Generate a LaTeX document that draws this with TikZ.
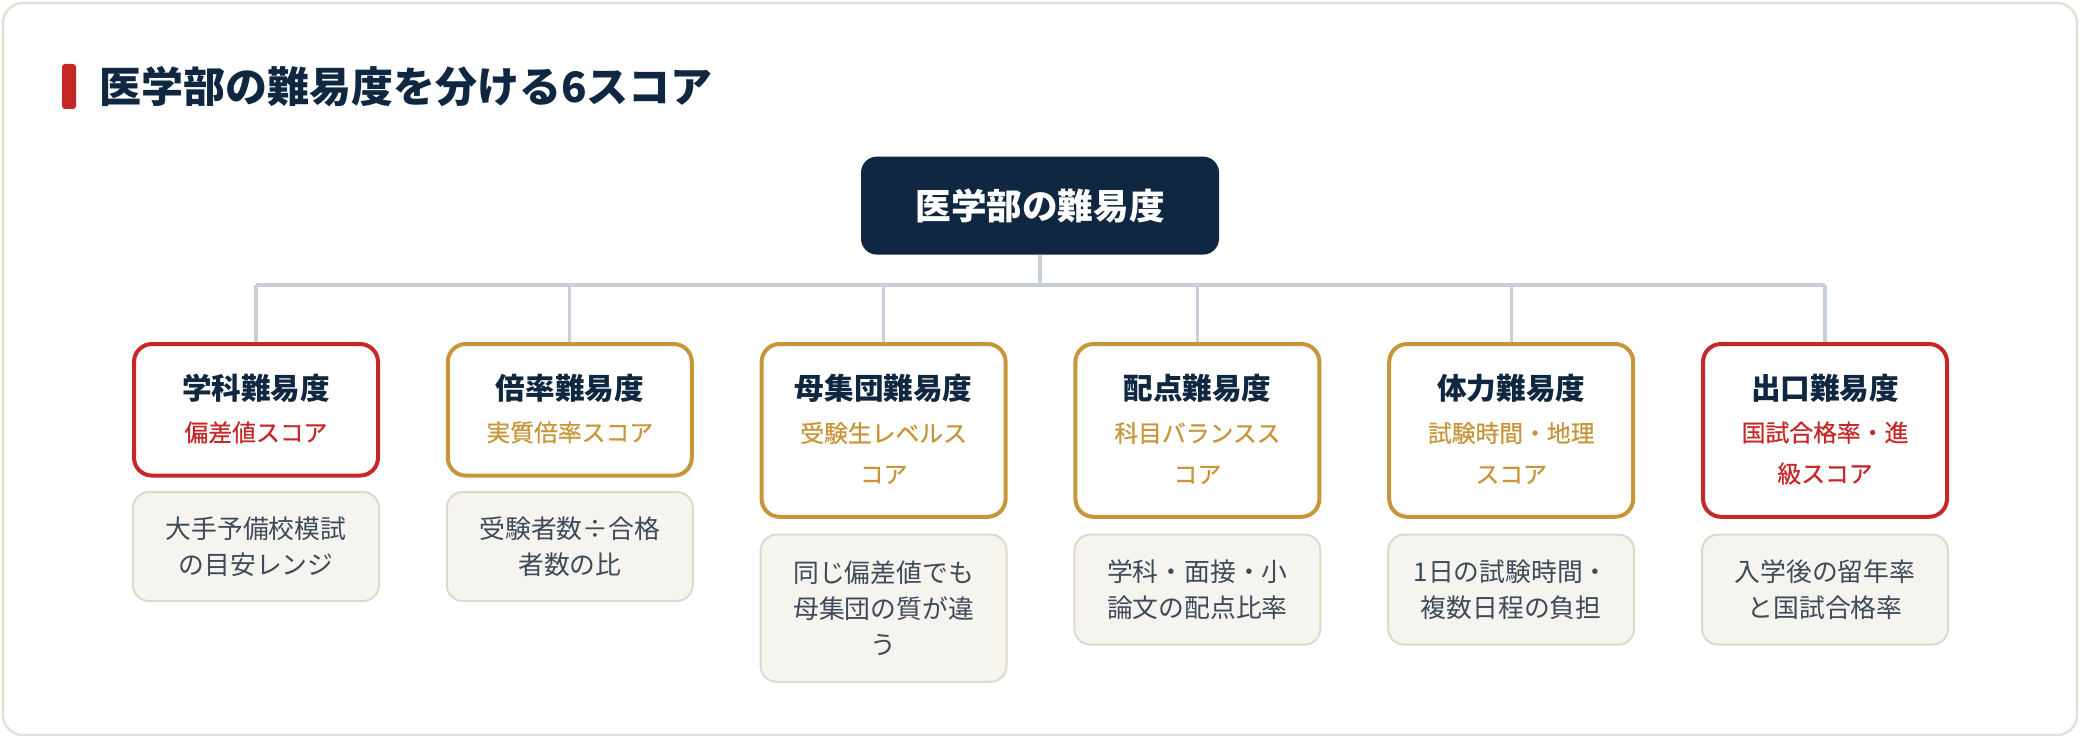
\documentclass[tikz,border=0pt]{standalone}
\usepackage{fontspec}
\setmainfont{Noto Sans CJK JP}
\newfontfamily\jpmed[FakeBold=0.6]{Noto Sans CJK JP}
\definecolor{navy}{HTML}{0F2741}
\definecolor{redc}{HTML}{C62828}
\definecolor{goldc}{HTML}{C8963A}
\definecolor{connc}{HTML}{C8CFD9}
\definecolor{descfill}{HTML}{F5F4EE}
\definecolor{descdraw}{HTML}{DDDACB}
\definecolor{desctext}{HTML}{3E4A5A}
\definecolor{framec}{HTML}{E2E0D4}
\tikzset{
  rootbox/.style={fill=navy, text=white, rounded corners=8pt, minimum width=179pt, minimum height=49pt, inner sep=0pt, font=\bfseries\fontsize{17.8}{20}\selectfont},
  catbox/.style={fill=white, line width=2pt, rounded corners=9pt, minimum width=122pt, anchor=north, inner sep=0pt},
  cattitle/.style={text=navy, inner sep=0pt, font=\bfseries\fontsize{14.8}{18}\selectfont},
  catsub/.style={inner sep=0pt, align=center, font=\jpmed\fontsize{11.9}{20.5}\selectfont},
  descbox/.style={fill=descfill, draw=descdraw, line width=1pt, rounded corners=8pt, minimum width=123pt, text=desctext, align=center, inner sep=0pt, font=\fontsize{12.9}{18}\selectfont},
  conn/.style={draw=connc, line width=1.6pt},
}
\begin{document}
\begin{tikzpicture}[x=0.5pt,y=-0.5pt]
\useasboundingbox (0,0) rectangle (2080,738);
\draw[framec, line width=1.2pt, fill=white, rounded corners=10pt] (3,3) rectangle (2077,735);
\fill[redc, rounded corners=1.5pt] (62,64) rectangle (76,109);
\node[anchor=west, text=navy, inner sep=0pt, font=\bfseries\fontsize{21}{25}\selectfont] (title) at (99,87) {医学部の難易度を分ける6スコア};

\node[rootbox] (root) at (1040,205.6) {医学部の難易度};
\coordinate (bus) at (1040,285);

% category boxes
\node[catbox, draw=redc, minimum height=65.8pt] (b1) at (256,342) {};
\node[catbox, draw=goldc, minimum height=65.8pt] (b2) at (569.8,342) {};
\node[catbox, draw=goldc, minimum height=86.4pt] (b3) at (883.6,342) {};
\node[catbox, draw=goldc, minimum height=86.4pt] (b4) at (1197.4,342) {};
\node[catbox, draw=goldc, minimum height=86.4pt] (b5) at (1511.2,342) {};
\node[catbox, draw=redc, minimum height=86.4pt] (b6) at (1825,342) {};

% connectors
\draw[conn] (root.south) -- (bus);
\draw[conn] (b1.north |- bus) -- (b6.north |- bus);
\foreach \i in {1,...,6} {\draw[conn] (b\i.north |- bus) -- (b\i.north);}

% titles
\node[cattitle] (t1) at (256,388.7) {学科難易度};
\node[cattitle] (t2) at (569.8,388.7) {倍率難易度};
\node[cattitle] (t3) at (883.6,388.7) {母集団難易度};
\node[cattitle] (t4) at (1197.4,388.7) {配点難易度};
\node[cattitle] (t5) at (1511.2,388.7) {体力難易度};
\node[cattitle] (t6) at (1825,388.7) {出口難易度};

% subtitles
\node[catsub, text=redc] (s1) at (256,432.4) {偏差値スコア};
\node[catsub, text=goldc] (s2) at (569.8,432.4) {実質倍率スコア};
\node[catsub, text=goldc] (s3) at (883.6,453) {受験生レベルス\\コア};
\node[catsub, text=goldc] (s4) at (1197.4,453) {科目バランスス\\コア};
\node[catsub, text=goldc] (s5) at (1511.2,453) {試験時間・地理\\スコア};
\node[catsub, text=redc] (s6) at (1825,453) {国試合格率・進\\級スコア};

% description boxes
\node[descbox, minimum height=54.5pt] (d1) at (256,546.5) {大手予備校模試\\の目安レンジ};
\node[descbox, minimum height=54.5pt] (d2) at (569.8,546.5) {受験者数÷合格\\者数の比};
\node[descbox, minimum height=73.6pt] (d3) at (883.6,608.2) {同じ偏差値でも\\母集団の質が違\\う};
\node[descbox, minimum height=55pt] (d4) at (1197.4,589.6) {学科・面接・小\\論文の配点比率};
\node[descbox, minimum height=55pt] (d5) at (1511.2,589.6) {1日の試験時間・\\複数日程の負担};
\node[descbox, minimum height=55pt] (d6) at (1825,589.6) {入学後の留年率\\と国試合格率};
\end{tikzpicture}
\end{document}
